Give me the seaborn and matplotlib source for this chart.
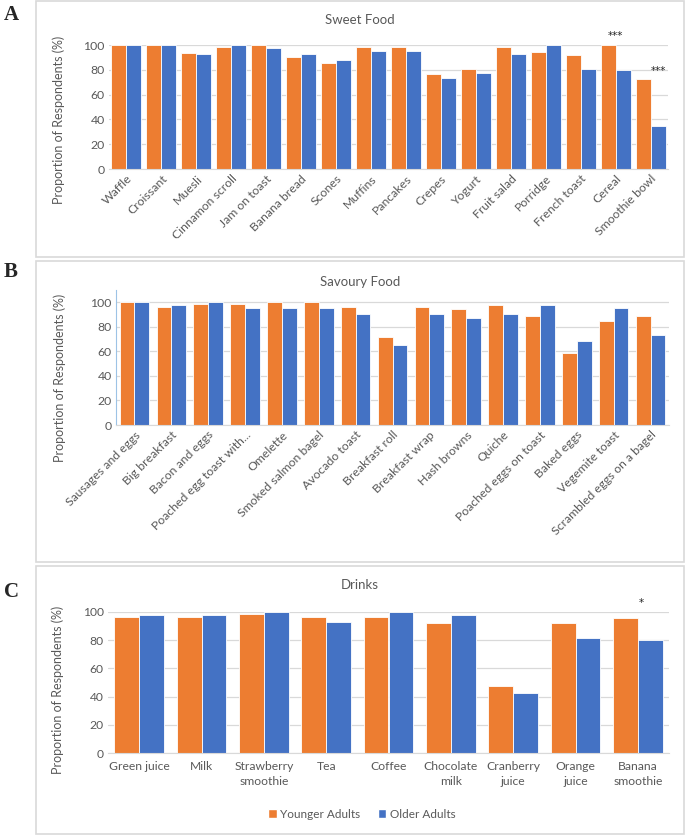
import numpy as np
import pandas as pd
import seaborn as sns
import matplotlib.pyplot as plt
from matplotlib.patches import Rectangle, Patch

sns.set_style('white')
plt.rcParams['font.family'] = ['Lato', 'DejaVu Sans']

# ---- data ----
sweet_items = ['Waffle', 'Croissant', 'Muesli', 'Cinnamon scroll', 'Jam on toast',
               'Banana bread', 'Scones', 'Muffins', 'Pancakes', 'Crepes', 'Yogurt',
               'Fruit salad', 'Porridge', 'French toast', 'Cereal', 'Smoothie bowl']
sweet_young = [100, 100, 93.5, 98, 100, 90, 85.5, 98, 98, 77, 80.5, 98, 94.5, 92, 100, 72.8]
sweet_old = [100, 100, 92.7, 100, 97.5, 93, 88.2, 95.3, 95, 73.4, 77.2, 93, 100, 81, 80, 34.3]

savoury_items = ['Sausages and eggs', 'Big breakfast', 'Bacon and eggs',
                 'Poached egg toast with...', 'Omelette', 'Smoked salmon bagel',
                 'Avocado toast', 'Breakfast roll', 'Breakfast wrap', 'Hash browns',
                 'Quiche', 'Poached eggs on toast', 'Baked eggs', 'Vegemite toast',
                 'Scrambled eggs on a bagel']
savoury_young = [100, 96.2, 98.4, 98.4, 100, 100, 96.2, 71.5, 96, 94.3, 97.8, 88.6, 58.5, 84.5, 88.6]
savoury_old = [100, 97.6, 100, 95.7, 95.4, 95.4, 90.8, 65.5, 90.2, 87.5, 90.5, 97.8, 68.5, 95.4, 73.6]

drink_items = ['Green juice', 'Milk', 'Strawberry\nsmoothie', 'Tea', 'Coffee',
               'Chocolate\nmilk', 'Cranberry\njuice', 'Orange\njuice', 'Banana\nsmoothie']
drink_young = [96.2, 96.2, 98.4, 96.2, 96.2, 92.5, 47.8, 92.5, 96]
drink_old = [97.6, 97.6, 100, 92.9, 100, 97.6, 42.4, 81.6, 80]

groups = ['Younger Adults', 'Older Adults']
colors = ['#ED7D31', '#4472C4']
txt = '#595959'
grid = '#D9D9D9'
star_font = ['DejaVu Sans']

W, H = 685, 836
fig = plt.figure(figsize=(W / 100, H / 100), dpi=100)


def px_axes(x0, y0, x1, y1):
    # pixel box (top-left origin) -> figure axes
    return fig.add_axes([x0 / W, 1 - y1 / H, (x1 - x0) / W, (y1 - y0) / H])


def long_df(items, young, old):
    return pd.DataFrame({
        'item': items * 2,
        'value': young + old,
        'group': [groups[0]] * len(items) + [groups[1]] * len(items),
    })


def draw(ax, items, young, old, width, tick_fs, ymax):
    df = long_df(items, young, old)
    sns.barplot(data=df, x='item', y='value', hue='group', palette=colors,
                saturation=1, width=width, edgecolor='white', linewidth=0.6,
                ax=ax, legend=False)
    ax.set_ylim(0, ymax)
    ax.set_yticks(np.arange(0, 101, 20))
    ax.yaxis.grid(True, color=grid, linewidth=0.9)
    ax.set_axisbelow(True)
    for s in ['top', 'right', 'left']:
        ax.spines[s].set_visible(False)
    ax.spines['bottom'].set_color(grid)
    ax.tick_params(axis='both', length=0, labelsize=tick_fs, colors=txt, pad=3)
    ax.set_xlabel('')
    ax.set_ylabel('Proportion of Respondents (%)', fontsize=9, color=txt)


# boxes around panels
for (y0, y1) in [(1, 257), (261, 562), (566, 834)]:
    fig.add_artist(Rectangle((36 / W, 1 - y1 / H), (684 - 36) / W, (y1 - y0) / H,
                             transform=fig.transFigure, fill=False,
                             edgecolor=grid, linewidth=1.2))

# A: sweet food
axA = px_axes(109, 45, 668, 169)
draw(axA, sweet_items, sweet_young, sweet_old, 0.86, 8.8, 100)
axA.set_xticks(range(len(sweet_items)))
axA.set_xticklabels(sweet_items, rotation=45, ha='right', rotation_mode='anchor')
axA.yaxis.set_label_coords(-0.078, 0.4)
axA.text(14, 103, '***', ha='center', va='bottom', fontsize=7.5, color='#262626',
         family=star_font)
axA.text(15.22, 75, '***', ha='center', va='bottom', fontsize=7.5, color='#262626',
         family=star_font)

# B: savoury food
axB = px_axes(116, 290, 669, 425)
draw(axB, savoury_items, savoury_young, savoury_old, 0.8, 8.8, 110)
axB.set_xticks(range(len(savoury_items)))
axB.set_xticklabels(savoury_items, rotation=45, ha='right', rotation_mode='anchor')
axB.spines['left'].set_visible(True)
axB.spines['left'].set_color('#9DC3E6')
axB.yaxis.set_label_coords(-0.09, 0.35)

# C: drinks
axC = px_axes(108, 612, 669, 753)
draw(axC, drink_items, drink_young, drink_old, 0.8, 8.7, 100)
axC.set_xticks(range(len(drink_items)))
axC.set_xticklabels(drink_items, linespacing=1.4)
axC.tick_params(axis='x', pad=6)
axC.yaxis.set_label_coords(-0.078, 0.45)
axC.text(8.05, 103, '*', ha='center', va='bottom', fontsize=7.5, color='#262626',
         family=star_font)

# titles
for title, y in [('Sweet Food', 20), ('Savoury Food', 282), ('Drinks', 585)]:
    fig.text(360 / W, 1 - y / H, title, ha='center', va='center', fontsize=9.5, color=txt)

# panel letters
for lab, y in [('A', 15), ('B', 272), ('C', 592)]:
    fig.text(4 / W, 1 - y / H, lab, ha='left', va='center', fontsize=15,
             fontweight='bold', family=['Liberation Serif', 'DejaVu Serif'])

handles = [Patch(facecolor=c, label=g) for c, g in zip(colors, groups)]
fig.legend(handles=handles, loc='center', bbox_to_anchor=(362 / W, 1 - 814 / H),
           ncol=2, frameon=False, fontsize=8.5, handlelength=0.7, handleheight=0.7,
           handletextpad=0.3, columnspacing=1.5, labelcolor=txt)

fig.savefig('out.png', dpi=100)
